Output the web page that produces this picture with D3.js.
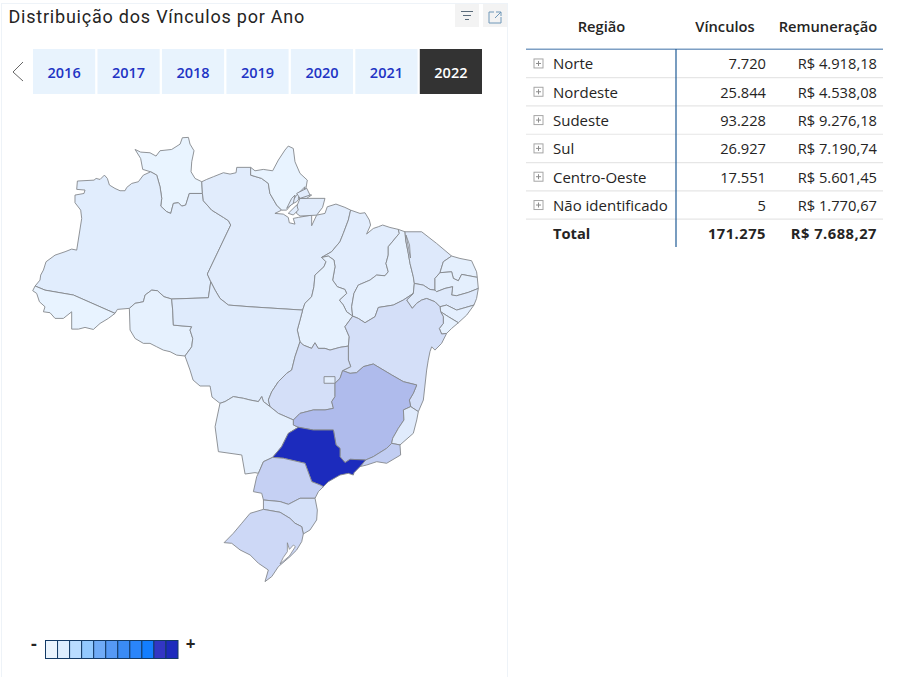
<!DOCTYPE html>
<html lang="pt-BR">
<head>
<meta charset="utf-8">
<title>Distribuição dos Vínculos por Ano</title>
<script src="https://cdn.jsdelivr.net/npm/d3@7"></script>
<style>
  html, body { margin: 0; padding: 0; background: #fff; }
  svg { display: block; }
  text { font-family: "Open Sans", "Noto Sans", sans-serif; fill: #252423; }
</style>
</head>
<body>
<div id="chart"></div>
<script>
// table
const regions = ['Norte', 'Nordeste', 'Sudeste', 'Sul', 'Centro-Oeste', 'Não identificado'];
const vinculos = [7720, 25844, 93228, 26927, 17551, 5];
const remuneracao = [4918.18, 4538.08, 9276.18, 7190.74, 5601.45, 1770.67];
const totalVinculos = 171275;
const totalRemuneracao = 7688.27;
const tableHeader = ['Região', 'Vínculos', 'Remuneração'];

// slicer
const years = ['2016', '2017', '2018', '2019', '2020', '2021', '2022'];
const selectedYear = '2022';

// legend
const legendColors = ['#eaf4fe', '#ddeeff', '#b9dcff', '#92c9ff', '#6fabf7', '#5599f5', '#3a8bf5', '#2a85fa', '#137eff', '#3236c4', '#1c2bbd'];

// state values, estimated from the shade of each state
const stateIds = ['RR', 'AM', 'AC', 'RO', 'PA', 'AP', 'MA', 'TO', 'PI', 'CE', 'RN', 'PB', 'PE', 'AL', 'SE', 'BA', 'MT', 'GO', 'MS', 'MG', 'ES', 'RJ', 'SP', 'PR', 'SC', 'RS', 'DF'];
const stateValues = [150, 2300, 200, 900, 2400, 250, 2100, 800, 1100, 3300, 1500, 1600, 3300, 1400, 1000, 6500, 2900, 6500, 1500, 17500, 2800, 12000, 62000, 11000, 6000, 8500, 1800];

// state borders as lon/lat arcs shared between neighbours
const arcs = {
  rrN: [[-65.05,4.18],[-64.56,3.95],[-63.74,3.89],[-63.21,3.6],[-62.86,4.07],[-61.84,4.18],[-61.1,4.65],[-60.9,5.21],[-60.37,5.24],[-60.23,4.65],[-59.88,4.07],[-60.08,3.1],[-60.14,2.22],[-59.79,1.64],[-59.2,1.35]],
  rrPa: [[-59.2,1.35],[-59.14,0.32]],
  rrAm: [[-59.14,0.32],[-60.29,0.32],[-60.61,-0.7],[-60.96,-0.79],[-61.25,-0.49],[-61.69,-0.55],[-61.92,-1.43],[-62.27,-1.28],[-62.8,-0.79],[-62.71,-0.11],[-62.86,0.91],[-63.15,1.93],[-63.68,2.22]],
  rrW: [[-63.68,2.22],[-64.38,2.43],[-64.56,3.39],[-65.05,4.18]],
  amN: [[-63.68,2.22],[-64.32,1.93],[-64.76,1.35],[-65.34,1.2],[-65.78,0.85],[-65.93,0.56],[-66.37,0.56],[-66.81,0.76],[-67.3,1.06],[-67.48,1.64],[-67.74,1.93],[-68.12,1.55],[-68.47,1.64],[-68.65,1.49],[-70.11,1.41],[-70.17,0.68],[-69.44,0.62],[-69.53,0.32],[-70.32,0.18],[-70.32,-0.49],[-69.82,-1.14],[-69.73,-1.87],[-70.17,-4.65],[-70.61,-4.56],[-71.19,-4.79],[-72.07,-5.09],[-72.86,-5.67],[-73.09,-6.4],[-73.33,-6.84],[-73.39,-7.28],[-73.82,-7.8]],
  acAm: [[-73.82,-7.8],[-72.95,-8.16],[-70.46,-8.59],[-66.81,-10.2]],
  acS: [[-73.82,-7.8],[-74.03,-8.21],[-73.68,-8.45],[-73.44,-9.18],[-72.95,-9.62],[-73.09,-10.06],[-72.51,-10.14],[-72.07,-10.64],[-71.34,-10.64],[-70.61,-10.06],[-70.61,-11.58],[-70.02,-11.58],[-69.44,-11.43],[-68.71,-11.61],[-68.12,-11.08],[-67.39,-10.64],[-66.81,-10.2]],
  amRoA: [[-66.81,-10.2],[-66.6,-9.85],[-65.55,-9.76]],
  amRo: [[-65.55,-9.76],[-65.05,-9.32],[-64.32,-9.18],[-64.17,-8.59],[-63.59,-8.16],[-63.09,-8.21],[-62.51,-8.74],[-61.84,-8.94]],
  amMt: [[-61.84,-8.94],[-58.62,-8.83],[-58.41,-7.42]],
  amPa: [[-58.41,-7.42],[-58.71,-6.75],[-56.66,-2.45],[-56.86,-2.07],[-57.3,-1.78],[-58.33,-1.14],[-59.06,-0.32],[-59.14,0.32]],
  roS: [[-65.55,-9.76],[-65.49,-11.66],[-65.05,-12.4],[-64.32,-12.83],[-63.74,-12.83],[-63.15,-13.13],[-62.57,-13.42],[-61.98,-13.56],[-61.4,-13.86],[-60.67,-13.94]],
  roMt: [[-60.67,-13.94],[-60.08,-13.13],[-59.99,-12.4],[-60.23,-11.66],[-60.08,-11.37],[-61.69,-11.23],[-61.75,-9.91],[-61.84,-8.94]],
  paN: [[-59.2,1.35],[-58.77,1.55],[-58.18,1.79],[-57.3,2.14],[-56.72,2.02],[-56.19,2.14],[-56.13,2.61],[-54.91,2.61]],
  paApV: [[-54.91,2.61],[-54.91,1.93]],
  apPa: [[-54.91,1.93],[-53.95,1.64],[-53.36,1.2],[-53.22,0.32],[-52.63,-0.7],[-52.19,-1.14]],
  apN: [[-54.91,2.61],[-54.53,2.31],[-53.8,2.43],[-52.98,2.31],[-52.48,3.25],[-51.9,4.13],[-51.61,4.48],[-51.17,4.27],[-51.02,3.1],[-50.58,2.08],[-49.94,1.49],[-50.06,0.76],[-50.58,0.47],[-51.02,-0.26],[-51.75,-1.14],[-52.19,-1.14]],
  paCoast: [[-52.19,-1.14],[-52.78,-1.43],[-52.05,-1.49],[-51.61,-1.78],[-51.52,-2.25],[-51.02,-2.37],[-51.17,-1.87],[-50.73,-1.78],[-49.56,-1.58],[-49.56,-2.51],[-49.12,-1.58],[-48.39,-1.43],[-48.19,-0.85],[-47.43,-0.61],[-46.64,-0.9],[-46.14,-1.14]],
  paMa: [[-46.14,-1.14],[-46.34,-2.01],[-46.78,-3.18],[-47.08,-3.92],[-47.81,-4.79],[-48.68,-5.29]],
  paTo: [[-48.68,-5.29],[-48.3,-5.67],[-48.48,-6.11],[-49.27,-6.84],[-49.36,-7.86],[-49.56,-8.74],[-50.15,-9.32],[-50.35,-9.91]],
  paMt: [[-50.35,-9.91],[-54.97,-9.62],[-56.86,-9.47],[-57.6,-8.89],[-58.03,-8.16],[-58.41,-7.42]],
  maCoast: [[-46.14,-1.14],[-45.32,-1.43],[-44.88,-1.37],[-44.5,-2.01],[-44.39,-2.45],[-44.74,-3.24],[-44.15,-2.75],[-43.71,-2.6],[-43.33,-2.45],[-42.69,-2.66],[-41.96,-2.83]],
  maPi: [[-41.96,-2.83],[-41.87,-3.18],[-42.84,-4.35],[-42.84,-5.09],[-43.04,-5.82],[-42.84,-6.55],[-43.13,-6.9],[-43.86,-6.84],[-44.44,-7.28],[-45.47,-7.72],[-45.85,-8.45],[-46.05,-9.62],[-45.96,-10.44]],
  toMa: [[-45.96,-10.44],[-46.49,-10.06],[-46.78,-9.47],[-47.13,-9.03],[-46.49,-8.45],[-46.64,-8.1],[-47.31,-7.86],[-47.72,-7.28],[-47.51,-6.11],[-47.6,-5.52],[-48.1,-5.17],[-48.68,-5.29]],
  piCoast: [[-41.96,-2.83],[-41.37,-3.04]],
  piCe: [[-41.37,-3.04],[-41.31,-3.77],[-41.08,-4.94],[-40.93,-5.82],[-40.64,-6.99],[-40.55,-7.57]],
  piPe: [[-40.55,-7.57],[-40.64,-8.45]],
  piBa: [[-40.64,-8.45],[-41.52,-9.03],[-42.4,-9.47],[-43.71,-9.68],[-44,-10.49],[-44.88,-11.02],[-45.47,-10.64],[-45.96,-10.44]],
  ceCoast: [[-41.37,-3.04],[-39.91,-3.04],[-38.6,-4.06],[-37.28,-5.17]],
  ceRn: [[-37.28,-5.17],[-38.01,-5.67],[-38.3,-6.63]],
  cePb: [[-38.3,-6.63],[-38.74,-7.13],[-38.74,-8.16]],
  cePe: [[-38.74,-8.16],[-39.18,-8.1],[-39.77,-7.72],[-40.55,-7.57]],
  rnCoast: [[-37.28,-5.17],[-36.55,-5.38],[-35.53,-5.58],[-35.09,-6.55],[-35.03,-7.04]],
  rnPb: [[-35.03,-7.04],[-36.4,-6.78],[-36.69,-7.34],[-37.13,-7.13],[-37.28,-6.55],[-38.3,-6.63]],
  pbCoast: [[-35.03,-7.04],[-34.94,-8.01]],
  pbPe: [[-34.94,-8.01],[-35.82,-8.36],[-36.84,-8.65],[-37.28,-8.59],[-37.19,-7.86],[-37.86,-8.01],[-38.6,-8.3],[-38.74,-8.16]],
  peCoast: [[-34.94,-8.01],[-35.09,-8.89],[-35.32,-9.47]],
  peAl: [[-35.32,-9.47],[-36.84,-9.91],[-37.72,-9.47],[-38.3,-9.62]],
  peBa: [[-40.64,-8.45],[-41.23,-9.03],[-40.73,-9.76],[-40.35,-9.32],[-39.91,-9.03],[-39.47,-8.89],[-38.74,-9.18],[-38.3,-9.62]],
  alCoast: [[-35.32,-9.47],[-35.96,-10.35],[-36.69,-11.02]],
  alSe: [[-36.69,-11.02],[-37.57,-10.49],[-38.24,-10.06]],
  alBa: [[-38.3,-9.62],[-38.24,-10.06]],
  seCoast: [[-36.69,-11.02],[-37.28,-11.52],[-37.72,-11.96]],
  seBa: [[-37.72,-11.96],[-38.16,-12.01],[-38.36,-11.52],[-38.01,-11.08],[-38.01,-10.49],[-38.24,-10.06]],
  baCoast: [[-37.72,-11.96],[-38.16,-12.83],[-38.74,-13.42],[-39.03,-13.13],[-39.18,-13.56],[-39.33,-14.3],[-39.47,-15.17],[-39.76,-17.8],[-40.2,-18.82]],
  baEs: [[-40.2,-18.82],[-40.87,-18.38]],
  baMg: [[-40.87,-18.38],[-40.99,-17.8],[-40.64,-17.21],[-40.34,-16.48],[-41.51,-16.19],[-42.54,-15.6],[-44.15,-14.64],[-45.02,-14.87],[-45.61,-15.4],[-46.19,-15.46],[-46.84,-15.22]],
  baGo: [[-46.84,-15.22],[-46.13,-14.87],[-46.34,-14.29],[-46.34,-13.41],[-46.34,-13.07]],
  baTo: [[-46.34,-13.07],[-46.26,-12.25],[-46.64,-11.37],[-45.96,-10.44]],
  toGo: [[-46.34,-13.07],[-47.08,-13.18],[-47.95,-13.42],[-48.39,-13.27],[-48.98,-13.27],[-49.27,-12.78],[-49.56,-13.27],[-50.29,-12.98],[-50.58,-12.69]],
  toMt: [[-50.58,-12.69],[-50.82,-11.66],[-50.58,-10.79],[-50.35,-9.91]],
  goMt: [[-50.58,-12.69],[-51.02,-14],[-51.31,-15.17],[-51.75,-15.46],[-52.48,-16.19],[-53.06,-17.07],[-53.36,-17.8],[-53.21,-18.38]],
  msGo: [[-53.21,-18.38],[-52.48,-18.97],[-51.16,-19.55]],
  goMg: [[-51.16,-19.55],[-50.58,-18.97],[-49.41,-18.67],[-48.38,-18.67],[-47.65,-18.53],[-47.8,-17.94],[-47.51,-17.5],[-47.51,-16.33],[-47.07,-15.9],[-46.84,-15.22]],
  mgMs: [[-51.16,-19.55],[-51.16,-19.99],[-50.72,-20.19]],
  mgSp: [[-50.72,-20.19],[-49.41,-20.43],[-47.65,-20.43],[-47.42,-21.74],[-47.07,-22.04],[-47.07,-22.77],[-46.63,-23.29],[-46.19,-23],[-44.82,-23.06]],
  msSp: [[-50.72,-20.19],[-51.6,-20.72],[-52.19,-21.89],[-52.98,-22.83]],
  prSp: [[-52.98,-22.83],[-52.04,-22.91],[-50.14,-23.35],[-49.55,-24.96],[-48.82,-25.25],[-48.53,-25.4]],
  spCoast: [[-48.53,-25.4],[-48.09,-24.96],[-47.07,-24.38],[-46.34,-24.23],[-45.9,-24.38],[-45.84,-24.17],[-45.31,-23.64]],
  spRj: [[-45.31,-23.64],[-44.82,-23.06]],
  prCoast: [[-48.53,-25.4],[-48.97,-25.84],[-49.26,-26.42]],
  prSc: [[-49.26,-26.42],[-50.58,-26.42],[-51.6,-26.95],[-52.33,-26.71],[-53.79,-26.57]],
  prW: [[-53.79,-26.57],[-53.94,-25.98],[-54.67,-25.84],[-54.38,-24.52],[-54.23,-24.23]],
  prMs: [[-54.23,-24.23],[-53.79,-23.21],[-52.98,-22.83]],
  msW: [[-57.6,-18.09],[-58.03,-20.14],[-57.74,-22.33],[-55.69,-22.62],[-55.4,-24.29],[-54.53,-24.17],[-54.23,-24.23]],
  msMt: [[-53.21,-18.38],[-53.79,-17.94],[-53.94,-17.5],[-54.23,-17.94],[-54.96,-17.8],[-55.55,-17.65],[-56.43,-17.5],[-57.16,-17.94],[-57.6,-18.09]],
  mtSw: [[-60.67,-13.94],[-60.23,-15.17],[-59.96,-16.05],[-59.35,-16.57],[-58.47,-16.57],[-58.3,-17.54],[-57.6,-18.09]],
  mgRj: [[-44.82,-23.06],[-44.15,-22.77],[-42.98,-22.04],[-42.54,-21.6]],
  mgEs: [[-42.54,-21.6],[-42.45,-21.16],[-41.95,-20.28],[-41.46,-19.55],[-41.51,-18.67],[-40.87,-18.38]],
  esCoast: [[-40.2,-18.82],[-40.34,-19.55],[-40.64,-20.72],[-41.81,-21.74]],
  esRj: [[-41.81,-21.74],[-42.54,-21.6]],
  rjCoast: [[-41.81,-21.74],[-41.75,-22.62],[-42.98,-23.35],[-43.85,-23.21],[-44.73,-23.5],[-45.31,-23.64]],
  scCoast: [[-49.26,-26.42],[-49.06,-27.45],[-49.12,-28.32],[-49.7,-29.2],[-50.29,-29.55]],
  scRs: [[-50.29,-29.55],[-50.43,-28.91],[-51.02,-28.61],[-51.46,-28.18],[-52.33,-27.65],[-53.79,-27.39]],
  scW: [[-53.79,-27.39],[-53.79,-26.57]],
  rsOuter: [[-53.79,-27.39],[-54.96,-27.74],[-55.69,-28.61],[-56.43,-29.49],[-57.24,-30.31],[-56.57,-30.37],[-55.84,-30.95],[-54.96,-31.39],[-54.23,-32.12],[-53.36,-32.71],[-53.65,-33.73],[-53.06,-33.29],[-52.48,-32.42],[-51.46,-31.54],[-50.87,-30.95],[-50.43,-30.22],[-50.29,-29.55]],
  dfBox: [[-48.47,-15.75],[-47.51,-15.75],[-47.51,-16.33],[-48.47,-16.33],[-48.47,-15.75]]
};

// ~ means the arc is walked backwards
const stateArcs = {
  RR: ['rrN', 'rrPa', 'rrAm', 'rrW'],
  AM: ['amN', 'acAm', 'amRoA', 'amRo', 'amMt', 'amPa', 'rrAm'],
  AC: ['acS', '~acAm'],
  RO: ['amRo', '~roMt', '~roS'],
  PA: ['paN', 'paApV', 'apPa', 'paCoast', 'paMa', 'paTo', 'paMt', 'amPa', '~rrPa'],
  AP: ['apN', '~apPa', '~paApV'],
  MA: ['maCoast', 'maPi', 'toMa', '~paMa'],
  TO: ['paTo', '~toMt', '~toGo', 'baTo', 'toMa'],
  PI: ['piCoast', 'piCe', 'piPe', 'piBa', '~maPi'],
  CE: ['ceCoast', 'ceRn', 'cePb', 'cePe', '~piCe'],
  RN: ['rnCoast', 'rnPb', '~ceRn'],
  PB: ['pbCoast', 'pbPe', '~cePb', '~rnPb'],
  PE: ['peCoast', 'peAl', '~peBa', '~piPe', '~cePe', '~pbPe'],
  AL: ['alCoast', 'alSe', '~alBa', '~peAl'],
  SE: ['seCoast', 'seBa', '~alSe'],
  BA: ['baCoast', 'baEs', 'baMg', 'baGo', 'baTo', '~piBa', 'peBa', 'alBa', '~seBa'],
  MT: ['amMt', '~paMt', '~toMt', 'goMt', 'msMt', '~mtSw', 'roMt'],
  GO: ['goMt', 'msGo', 'goMg', 'baGo', 'toGo'],
  MS: ['msGo', 'mgMs', 'msSp', '~prMs', '~msW', '~msMt'],
  MG: ['~goMg', 'mgMs', 'mgSp', 'mgRj', 'mgEs', 'baMg'],
  ES: ['esCoast', 'esRj', 'mgEs', '~baEs'],
  RJ: ['rjCoast', 'spRj', 'mgRj', '~esRj'],
  SP: ['mgSp', '~spRj', '~spCoast', '~prSp', '~msSp'],
  PR: ['prSp', 'prCoast', 'prSc', 'prW', 'prMs'],
  SC: ['scCoast', 'scRs', 'scW', '~prSc'],
  RS: ['rsOuter', 'scRs'],
  DF: ['dfBox']
};

// islands at the Amazon mouth, the sliver on the PI/CE border, and the lagoon
const islands = [
  [[-50.88,-0.85],[-50.58,-0.11],[-48.39,-0.11],[-48.6,-0.9],[-49.12,-1.58],[-50.58,-1.66],[-50.88,-1.43]],
  [[-51.46,-0.7],[-50.88,0.18],[-50.15,0.91],[-50.29,0.32],[-50.88,-0.41]],
  [[-51.75,-0.99],[-51.31,-0.11],[-51.02,0.18],[-51.17,-0.55]],
  [[-50.58,0.32],[-49.56,0.18],[-50,-0.11],[-50.73,-0.11]],
  [[-51.61,-1.42],[-50.87,-0.69],[-50.73,-1.13],[-51.17,-1.57]],
  [[-50.87,0.33],[-49.99,0.77],[-49.7,0.18],[-50.58,-0.11]]
];
const borderSliver = [[-41.28,-3.33],[-40.97,-4.2],[-40.89,-5.34],[-41.06,-4.47]];
const lagoon = [[-51.69,-30.32],[-51.51,-30.9],[-51.16,-30.52],[-50.99,-30.66],[-51.51,-31.48],[-52.33,-32.18],[-52.04,-31.6],[-51.69,-31.1]];

const w = 902;
const h = 677;

const svg = d3.select('#chart')
  .append('svg')
  .attr('width', w)
  .attr('height', h);

// panel
svg.append('rect')
  .attr('x', 1.5).attr('y', 3.5)
  .attr('width', 506).attr('height', h)
  .attr('fill', 'none')
  .attr('stroke', '#eef3f8');

svg.append('text')
  .attr('x', 8.5).attr('y', 23)
  .style('font-family', 'Roboto')
  .style('font-size', '18px')
  .style('letter-spacing', '0.78px')
  .text('Distribuição dos Vínculos por Ano');

// header icons
svg.selectAll('.icon-box')
  .data([455, 483])
  .enter()
  .append('rect')
  .attr('class', 'icon-box')
  .attr('x', d => d).attr('y', 4)
  .attr('width', 24).attr('height', 23)
  .attr('fill', '#f3f3f3');

svg.selectAll('.filter-line')
  .data([[461, 473, 11.5], [463, 471, 15.5], [465, 469, 19.5]])
  .enter()
  .append('line')
  .attr('class', 'filter-line')
  .attr('x1', d => d[0]).attr('x2', d => d[1])
  .attr('y1', d => d[2]).attr('y2', d => d[2])
  .attr('stroke', '#5a6b7a');

svg.append('path')
  .attr('d', 'M494 12H489V23H501V17M496 12H501V16M501 12L495 18')
  .attr('fill', 'none')
  .attr('stroke', '#6f97b8');

// slicer
const yearScale = d3.scaleBand()
  .domain(years)
  .range([33, 482])
  .paddingInner(0.035)
  .paddingOuter(0);

svg.append('path')
  .attr('d', 'M23 62L13 72L23 81')
  .attr('fill', 'none')
  .attr('stroke', '#666');

const yearG = svg.selectAll('.year')
  .data(years)
  .enter()
  .append('g')
  .attr('class', 'year');

yearG.append('rect')
  .attr('x', d => yearScale(d))
  .attr('y', 49)
  .attr('width', yearScale.bandwidth())
  .attr('height', 45)
  .attr('fill', d => d === selectedYear ? '#333333' : '#e8f3fd');

yearG.append('text')
  .attr('x', d => yearScale(d) + yearScale.bandwidth() / 2)
  .attr('y', 78)
  .attr('text-anchor', 'middle')
  .style('font-size', '14.5px')
  .style('font-weight', 600)
  .style('fill', d => d === selectedYear ? '#ffffff' : '#2233c4')
  .text(d => d);

// map
function ring(list) {
  let pts = [];
  list.forEach(name => {
    const rev = name[0] === '~';
    const arc = arcs[rev ? name.slice(1) : name];
    const seq = rev ? arc.slice().reverse() : arc;
    pts = pts.concat(pts.length ? seq.slice(1) : seq);
  });
  return pts;
}

const polygon = coords => ({ type: 'Polygon', coordinates: [coords] });

const states = stateIds.map((id, i) => ({
  type: 'Feature',
  id: id,
  value: stateValues[i],
  geometry: polygon(ring(stateArcs[id]))
}));

const projection = d3.geoIdentity()
  .reflectY(true)
  .fitExtent([[32.7, 137.3], [478.3, 581.7]], { type: 'FeatureCollection', features: states });

const geoPath = d3.geoPath(projection);

const color = d3.scaleLinear()
  .domain([0, d3.max(stateValues)])
  .range(['#e9f4ff', '#1c2bbd']);

svg.append('g')
  .selectAll('path')
  .data(states)
  .enter()
  .append('path')
  .attr('d', geoPath)
  .attr('fill', d => color(d.value))
  .attr('stroke', '#85888c')
  .attr('stroke-width', 0.9)
  .attr('stroke-linejoin', 'round');

svg.append('g')
  .selectAll('path')
  .data(islands)
  .enter()
  .append('path')
  .attr('d', d => geoPath(polygon(d.concat([d[0]]))))
  .attr('fill', color(2400))
  .attr('stroke', '#85888c')
  .attr('stroke-width', 0.9);

svg.append('path')
  .attr('d', geoPath(polygon(borderSliver.concat([borderSliver[0]]))))
  .attr('fill', color(3300))
  .attr('stroke', '#85888c')
  .attr('stroke-width', 0.8);

svg.append('path')
  .attr('d', geoPath(polygon(lagoon.concat([lagoon[0]]))))
  .attr('fill', '#fff')
  .attr('stroke', '#85888c')
  .attr('stroke-width', 0.8);

// legend
const legendScale = d3.scaleBand()
  .domain(d3.range(legendColors.length))
  .range([45.5, 178]);

svg.selectAll('.swatch')
  .data(legendColors)
  .enter()
  .append('rect')
  .attr('class', 'swatch')
  .attr('x', (d, i) => legendScale(i))
  .attr('y', 640.5)
  .attr('width', legendScale.bandwidth())
  .attr('height', 18)
  .attr('fill', d => d)
  .attr('stroke', '#133a66')
  .attr('stroke-width', 1);

svg.append('text')
  .attr('x', 34).attr('y', 650)
  .attr('text-anchor', 'middle')
  .style('font-size', '18px')
  .style('font-weight', 700)
  .text('-');

svg.append('text')
  .attr('x', 190.5).attr('y', 650)
  .attr('text-anchor', 'middle')
  .style('font-size', '17px')
  .style('font-weight', 700)
  .text('+');

// table
const rowScale = d3.scaleBand()
  .domain(d3.range(regions.length + 1))
  .range([49.3, 247.5]);

const ptBR = d3.formatLocale({ decimal: ',', thousands: '.', grouping: [3], currency: ['R$ ', ''] });
const fmtInt = ptBR.format(',d');
const fmtMoney = ptBR.format('$,.2f');

const tableFont = '14.7px';
const xRegion = 553;
const xVinculos = 766;
const xRemun = 877;

[601.5, 725, 828].forEach((x, i) => {
  svg.append('text')
    .attr('x', x).attr('y', 32)
    .attr('text-anchor', 'middle')
    .style('font-size', tableFont)
    .style('font-weight', 600)
    .text(tableHeader[i]);
});

const rows = svg.selectAll('.row')
  .data(regions)
  .enter()
  .append('g')
  .attr('class', 'row')
  .attr('transform', (d, i) => 'translate(0,' + (rowScale(i) + rowScale.bandwidth() / 2) + ')');

rows.append('line')
  .attr('x1', 526).attr('x2', 883)
  .attr('y1', rowScale.bandwidth() / 2).attr('y2', rowScale.bandwidth() / 2)
  .attr('stroke', '#e6e6e6')
  .attr('stroke-width', 1.2);

rows.append('rect')
  .attr('x', 534).attr('y', -4.5)
  .attr('width', 9).attr('height', 9)
  .attr('fill', '#fff')
  .attr('stroke', '#a6a6a6');

rows.append('path')
  .attr('d', 'M536 0H541M538.5 -2.5V2.5')
  .attr('stroke', '#8c8c8c');

rows.append('text')
  .attr('x', xRegion).attr('y', 6)
  .style('font-size', '15px')
  .text(d => d);

rows.append('text')
  .attr('x', xVinculos).attr('y', 6)
  .attr('text-anchor', 'end')
  .style('font-size', tableFont)
  .text((d, i) => fmtInt(vinculos[i]));

rows.append('text')
  .attr('x', xRemun).attr('y', 6)
  .attr('text-anchor', 'end')
  .style('font-size', tableFont)
  .text((d, i) => fmtMoney(remuneracao[i]));

const totalY = rowScale(regions.length) + rowScale.bandwidth() / 2 + 6;
[[xRegion, 'start', 'Total', 0], [xVinculos, 'end', fmtInt(totalVinculos), 0.5], [xRemun, 'end', fmtMoney(totalRemuneracao), 0.5]].forEach(d => {
  svg.append('text')
    .attr('x', d[0]).attr('y', totalY)
    .attr('text-anchor', d[1])
    .style('font-size', tableFont)
    .style('font-weight', 700)
    .style('letter-spacing', d[3] + 'px')
    .text(d[2]);
});

svg.append('line')
  .attr('x1', 526).attr('x2', 883)
  .attr('y1', 49.3).attr('y2', 49.3)
  .attr('stroke', '#7d9fc4')
  .attr('stroke-width', 1.5);

svg.append('line')
  .attr('x1', 676).attr('x2', 676)
  .attr('y1', 49).attr('y2', 247)
  .attr('stroke', '#1f5b95')
  .attr('stroke-width', 1.2);
</script>
</body>
</html>
